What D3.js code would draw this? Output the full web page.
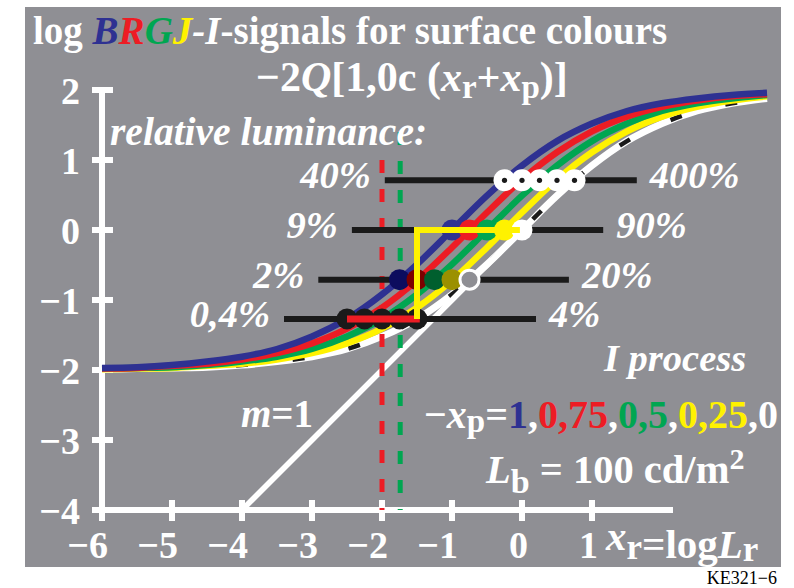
<!DOCTYPE html>
<html>
<head>
<meta charset="utf-8">
<script src="https://cdn.jsdelivr.net/npm/d3@7"></script>
<style>
  html, body { margin: 0; padding: 0; background: #ffffff; }
  svg { display: block; }
  text { font-family: "Liberation Serif", "Times New Roman", serif; font-weight: bold; }
  text.code { font-weight: normal; }
</style>
</head>
<body>
<svg id="chart" width="794" height="588"></svg>
<script>
// ---- data ----------------------------------------------------------
const xr = [-6, -5.5, -5, -4.5, -4, -3.5, -3, -2.5, -2, -1.5, -1, -0.5, 0, 0.5, 1, 1.5, 2, 2.5, 3, 3.5];
const blueSignal   = [-1.97, -1.96, -1.93, -1.88, -1.81, -1.70, -1.52, -1.27, -0.92, -0.49, 0, 0.49, 0.92, 1.27, 1.52, 1.70, 1.81, 1.88, 1.93, 1.96];
const redSignal    = [-1.98, -1.97, -1.94, -1.91, -1.85, -1.76, -1.62, -1.41, -1.11, -0.72, -0.25, 0.25, 0.72, 1.11, 1.41, 1.62, 1.76, 1.85, 1.91, 1.94];
const greenSignal  = [-1.98, -1.97, -1.96, -1.93, -1.88, -1.81, -1.70, -1.52, -1.27, -0.92, -0.49, 0, 0.49, 0.92, 1.27, 1.52, 1.70, 1.81, 1.88, 1.93];
const yellowSignal = [-1.99, -1.98, -1.97, -1.94, -1.91, -1.85, -1.76, -1.62, -1.41, -1.11, -0.72, -0.25, 0.25, 0.72, 1.11, 1.41, 1.62, 1.76, 1.85, 1.91];
const whiteSignal  = [-1.99, -1.98, -1.97, -1.96, -1.93, -1.88, -1.81, -1.70, -1.52, -1.27, -0.92, -0.49, 0, 0.49, 0.92, 1.27, 1.52, 1.70, 1.81, 1.88];

const xTicks = [-6, -5, -4, -3, -2, -1, 0, 1];
const yTicks = [-4, -3, -2, -1, 0, 1, 2];
const xTickLabels = ["\u22126", "\u22125", "\u22124", "\u22123", "\u22122", "\u22121", "0", "1"];
const yTickLabels = ["\u22124", "\u22123", "\u22122", "\u22121", "0", "1", "2"];

// relative-luminance levels with their bars and markers
const levelY      = [0.71, 0, -0.71, -1.27];
const leftLabels  = ["40%", "9%", "2%", "0,4%"];
const rightLabels = ["400%", "90%", "20%", "4%"];
const barFrom     = [-1.96, -2.43, -2.91, -3.40];
const barTo       = [1.64, 1.16, 0.67, 0.20];
const dotX = [
  [-0.25, 0, 0.25, 0.5, 0.75],
  [-1, -0.75, -0.5, -0.25, 0],
  [-1.75, -1.5, -1.25, -1, -0.75],
  [-2.5, -2.25, -2, -1.75, -1.5]
];
const unitLine   = [[-4, -4], [0, 0]];                 // m = 1
const redStep    = [[-2.5, -1.27], [-1.46, -1.27]];
const yellowStep = [[-1.5, -1.27], [-1.5, 0], [-0.03, 0]];
const redMarkX = -2, redMarkTop = 1.0;
const greenMarkX = -1.74, greenMarkTop = 1.4;

// ---- colours -------------------------------------------------------
const C = {
  bg: "#8f8f94", white: "#ffffff", black: "#1a1a1a",
  blue: "#2e3192", red: "#ed1c24", green: "#00a651", yellow: "#fff200",
  navy: "#0c0c5e", darkRed: "#7c0000", darkGreen: "#005f2e", olive: "#9b9000"
};

// ---- layout --------------------------------------------------------
const svg = d3.select("#chart");
const x = d3.scaleLinear().domain([-6, 1]).range([102, 592]);
const y = d3.scaleLinear().domain([-4, 2]).range([510, 90]);

svg.append("rect").attr("x", 25).attr("y", 7).attr("width", 756).attr("height", 560).attr("fill", C.bg);

function richText(parent, px, py, size, segs, anchor) {
  const t = parent.append("text").attr("x", px).attr("y", py)
    .attr("font-size", size).attr("fill", C.white)
    .attr("text-anchor", anchor || "start");
  let cur = 0;
  segs.forEach(s => {
    const shift = s.dy || 0;
    const ts = t.append("tspan").text(s.t).attr("dy", shift - cur);
    cur = shift;
    if (s.c) ts.attr("fill", s.c);
    if (s.i) ts.attr("font-style", "italic");
    if (s.fs) ts.attr("font-size", s.fs);
    if (s.dx) ts.attr("dx", s.dx);
  });
  return t;
}

// ---- axes ----------------------------------------------------------
const axisG = svg.append("g");
const xa = axisG.append("g").attr("transform", `translate(0,${y(-4)})`)
  .call(d3.axisBottom(x).tickValues(xTicks).tickSize(0).tickFormat(""));
xa.select(".domain").remove();
const ya = axisG.append("g").attr("transform", `translate(${x(-6)},0)`)
  .call(d3.axisLeft(y).tickValues(yTicks).tickSize(0).tickFormat(""));
ya.select(".domain").remove();

axisG.append("line").attr("x1", x(-6)).attr("x2", 673).attr("y1", y(-4)).attr("y2", y(-4))
  .attr("stroke", C.white).attr("stroke-width", 6);
axisG.append("line").attr("x1", x(-6)).attr("x2", x(-6)).attr("y1", y(-4)).attr("y2", y(2) - 3)
  .attr("stroke", C.white).attr("stroke-width", 6);
axisG.selectAll(".xt").data(xTicks).enter().append("line")
  .attr("x1", d => x(d)).attr("x2", d => x(d)).attr("y1", y(-4) - 10).attr("y2", y(-4) + 11)
  .attr("stroke", C.white).attr("stroke-width", 6);
axisG.selectAll(".yt").data(yTicks).enter().append("line")
  .attr("x1", x(-6) - 10).attr("x2", x(-6) + 11).attr("y1", d => y(d)).attr("y2", d => y(d))
  .attr("stroke", C.white).attr("stroke-width", 6);
axisG.selectAll(".xl").data(xTicks).enter().append("text")
  .attr("x", d => x(d) + 6).attr("y", 558).attr("text-anchor", "end")
  .attr("font-size", 38).attr("fill", C.white).text((d, i) => xTickLabels[i]);
axisG.selectAll(".yl").data(yTicks).enter().append("text")
  .attr("x", 80).attr("y", d => y(d) + 14).attr("text-anchor", "end")
  .attr("font-size", 38).attr("fill", C.white).text((d, i) => yTickLabels[i]);

// ---- curves --------------------------------------------------------
const line = d3.line().x(d => x(d[0])).y(d => y(d[1])).curve(d3.curveMonotoneX);
const pts = arr => xr.map((v, i) => [v, arr[i]]);
const curveG = svg.append("g").attr("fill", "none");
curveG.append("path").attr("d", line(pts(whiteSignal))).attr("stroke", C.white).attr("stroke-width", 7);
curveG.append("path").attr("d", line(pts(whiteSignal))).attr("stroke", C.black).attr("stroke-width", 4.5)
  .attr("stroke-dasharray", "12 45").attr("stroke-dashoffset", -20);
[[yellowSignal, C.yellow], [greenSignal, C.green], [redSignal, C.red], [blueSignal, C.blue]].forEach(([arr, col]) => {
  curveG.append("path").attr("d", line(pts(arr))).attr("stroke", col).attr("stroke-width", 6.5);
});

// slope-one reference line
const straight = d3.line().x(d => x(d[0])).y(d => y(d[1]));
svg.append("path").attr("d", straight(unitLine)).attr("stroke", C.white).attr("stroke-width", 5.5).attr("fill", "none");

// dashed verticals
svg.append("line").attr("x1", x(redMarkX)).attr("x2", x(redMarkX)).attr("y1", y(redMarkTop)).attr("y2", y(-4))
  .attr("stroke", C.red).attr("stroke-width", 5).attr("stroke-dasharray", "13 16");
svg.append("line").attr("x1", x(greenMarkX)).attr("x2", x(greenMarkX)).attr("y1", y(greenMarkTop)).attr("y2", y(-4))
  .attr("stroke", C.green).attr("stroke-width", 5).attr("stroke-dasharray", "13 16");

// ---- level bars and labels ----------------------------------------
const barG = svg.append("g");
barG.selectAll("line").data(levelY).enter().append("line")
  .attr("x1", (d, i) => x(barFrom[i])).attr("x2", (d, i) => x(barTo[i]))
  .attr("y1", d => y(d)).attr("y2", d => y(d))
  .attr("stroke", C.black).attr("stroke-width", 6);
barG.selectAll(".ll").data(levelY).enter().append("text")
  .attr("x", (d, i) => x(barFrom[i]) - 14).attr("y", d => y(d) + 8).attr("text-anchor", "end")
  .attr("font-size", 38.5).attr("font-style", "italic").attr("fill", C.white).text((d, i) => leftLabels[i]);
barG.selectAll(".rl").data(levelY).enter().append("text")
  .attr("x", (d, i) => x(barTo[i]) + 13).attr("y", d => y(d) + 8)
  .attr("font-size", 38.5).attr("font-style", "italic").attr("fill", C.white).text((d, i) => rightLabels[i]);

// ---- markers -------------------------------------------------------
const rowFill = [
  [C.white, C.white, C.white, C.white, C.white],
  [C.blue, C.red, C.green, C.yellow, C.white],
  [C.navy, C.darkRed, C.darkGreen, C.olive, C.bg],
  [C.black, C.black, C.black, C.black, C.black]
];
const dotG = svg.append("g");
dotX.forEach((row, r) => {
  row.forEach((dx, k) => {
    const c = dotG.append("circle").attr("cx", x(dx)).attr("cy", y(levelY[r]))
      .attr("r", r === 0 ? 11 : 10.5).attr("fill", rowFill[r][k]);
    if (r === 2 && k === 4) c.attr("r", 9.5).attr("stroke", C.white).attr("stroke-width", 3);
    if (r === 0) dotG.append("circle").attr("cx", x(dx)).attr("cy", y(levelY[r])).attr("r", 2.6).attr("fill", C.black);
  });
});

svg.append("path").attr("d", straight(redStep)).attr("stroke", C.red).attr("stroke-width", 7).attr("fill", "none");
svg.append("path").attr("d", straight(yellowStep)).attr("stroke", C.yellow).attr("stroke-width", 6)
  .attr("fill", "none").attr("stroke-linejoin", "miter");

// ---- texts ---------------------------------------------------------
const txt = svg.append("g");
richText(txt, 33, 44, 39, [
  { t: "log " },
  { t: "B", c: C.blue, i: true }, { t: "R", c: C.red, i: true },
  { t: "G", c: C.green, i: true }, { t: "J", c: C.yellow, i: true },
  { t: "-I", i: true }, { t: "-signals for surface colours" }
]);
richText(txt, 256, 91, 42, [
  { t: "\u22122" }, { t: "Q", i: true }, { t: "[1,0c (" },
  { t: "x", i: true }, { t: "r", fs: 33, dy: 7 }, { t: "+" },
  { t: "x", i: true }, { t: "p", fs: 33, dy: 7 }, { t: ")]" }
]);
richText(txt, 110, 145, 39.5, [{ t: "relative luminance:", i: true }]);
richText(txt, 604, 371, 38.5, [{ t: "I process", i: true }]);
richText(txt, 424, 428, 40, [
  { t: "\u2212" }, { t: "x", i: true }, { t: "p", fs: 33, dy: 4 }, { t: "=" },
  { t: "1", c: C.blue }, { t: "," }, { t: "0,75", c: C.red }, { t: "," },
  { t: "0,5", c: C.green }, { t: "," }, { t: "0,25", c: C.yellow }, { t: ",0" }
]);
richText(txt, 486, 483, 40.5, [
  { t: "L", i: true }, { t: "b", fs: 34, dy: 10 }, { t: " = 100 cd/m" },
  { t: "2", fs: 30, dy: -14 }
]);
richText(txt, 241, 427, 39, [{ t: "m", i: true }, { t: "=1" }]);
richText(txt, 606, 550, 41, [
  { t: "x", i: true }, { t: "r", fs: 35, dy: 9 }, { t: "=log", dy: 8 },
  { t: "L", i: true, dy: 8 }, { t: "r", fs: 35, dy: 11 }
]);
svg.append("text").attr("class", "code").attr("x", 777).attr("y", 584).attr("text-anchor", "end")
  .attr("font-size", 18).attr("fill", "#000").text("KE321\u22126");
</script>
</body>
</html>
